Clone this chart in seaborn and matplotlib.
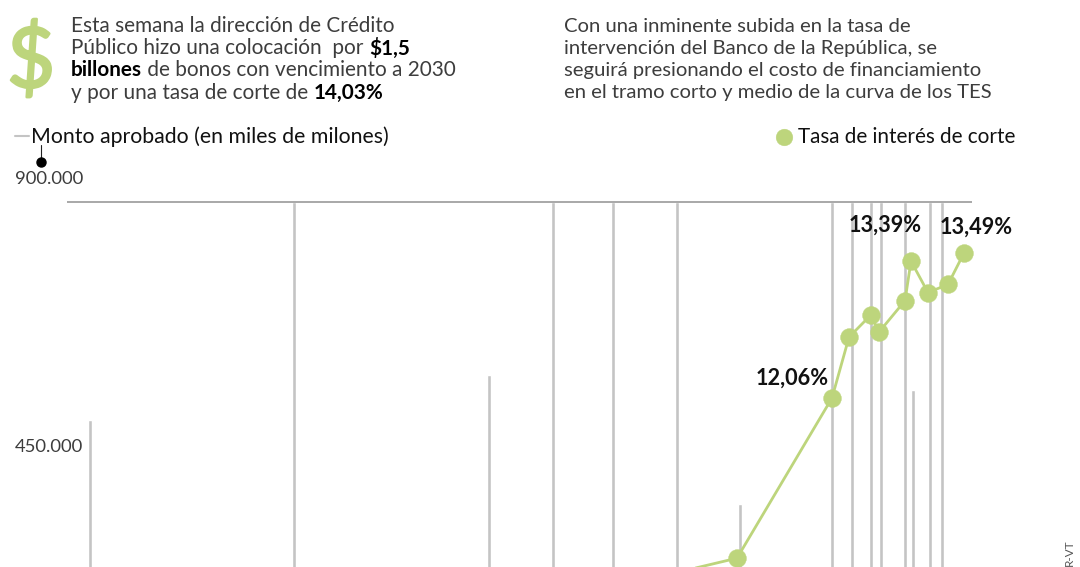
import pandas as pd
import matplotlib
matplotlib.use("Agg")
import matplotlib.pyplot as plt
import matplotlib.patheffects as pe
import seaborn as sns

# x = position along the time axis (one unit per pixel, dates are not printed in the chart)
bar_x = [89.5, 293.5, 488.5, 552.5, 612.5, 676.5, 739.5, 831.5, 851.5, 870.5, 880.5, 904.5, 912.5, 929.5, 941.5]
monto = [496000, 900000, 580000, 900000, 900000, 900000, 341000, 900000, 900000,
         900000, 900000, 900000, 552000, 900000, 900000]

tasa_x = [613, 737, 832, 849, 871, 879, 905, 911, 928, 948, 964]
tasa = [10.19, 10.48, 12.06, 12.66, 12.88, 12.71, 13.02, 13.41, 13.10, 13.18, 13.49]

etiquetas = ["12,06%", "13,39%", "13,49%"]
y_ticks = ["900.000", "450.000"]

parrafo_1 = [[("Esta semana la dirección de Crédito", "normal")],
             [("Público hizo una colocación  por ", "normal"), ("$1,5", "bold")],
             [("billones", "bold"), (" de bonos con vencimiento a 2030", "normal")],
             [("y por una tasa de corte de ", "normal"), ("14,03%", "bold")]]
parrafo_2 = ["Con una inminente subida en la tasa de",
             "intervención del Banco de la República, se",
             "seguirá presionando el costo de financiamiento",
             "en el tramo corto y medio de la curva de los TES"]

VERDE = "#bdd57c"
GRIS = "#c4c4c4"
TEXTO = "#3d3d3d"
W, H = 1080, 567

sns.set_theme(style="white")
plt.rcParams["font.family"] = ["Lato", "DejaVu Sans"]

fig = plt.figure(figsize=(10.8, 5.67), dpi=100)
ax = fig.add_axes([0, 0, 1, 1 - 202 / H])

df_monto = pd.DataFrame({"x": bar_x, "monto": monto})
df_tasa = pd.DataFrame({"x": tasa_x, "tasa": tasa})

sns.barplot(data=df_monto, x="x", y="monto", native_scale=True, color=GRIS,
            width=0.5, saturation=1, ax=ax)
ax.set_xlim(0, W)
ax.set_ylim(224000, 900000)
ax.hlines(900000, 67, 972, color="#a8a8a8", lw=1.4, clip_on=False)
ax.axis("off")

ax2 = ax.twinx()
sns.lineplot(data=df_tasa, x="x", y="tasa", color=VERDE, lw=2, ax=ax2)
sns.scatterplot(data=df_tasa, x="x", y="tasa", color=VERDE, s=165, edgecolor=VERDE,
                linewidth=0.3, zorder=5, clip_on=False, ax=ax2)
ax2.set_xlim(0, W)
ax2.set_ylim(10.393, 13.993)
ax2.axis("off")


def px_text(x, y, s, **kw):
    kw.setdefault("va", "center")
    return fig.text(x / W, 1 - y / H, s, **kw)


def runs(x, y, partes, size):
    r = fig.canvas.get_renderer()
    for s, peso in partes:
        color = "#000000" if peso == "bold" else TEXTO
        t = px_text(x, y, s.replace(" ", "\u00a0"), fontsize=size, fontweight=peso, color=color)
        x += t.get_window_extent(r).width


for i, linea in enumerate(parrafo_1):
    runs(71, 26 + i * 22.2, linea, 14.95)
for i, linea in enumerate(parrafo_2):
    px_text(564, 26 + i * 22.2, linea, fontsize=14.55, color=TEXTO)

signo = px_text(31, 63, "$", fontsize=60, color=VERDE, ha="center")
signo.set_path_effects([pe.withStroke(linewidth=1.8, foreground=VERDE)])

# leyenda
fig.add_artist(plt.Line2D([15 / W, 29 / W], [1 - 136 / H] * 2, color=GRIS, lw=1.5))
px_text(31, 137, "Monto aprobado (en miles de milones)", fontsize=15.3, color="#111111")
fig.add_artist(plt.Line2D([40.5 / W, 40.5 / W], [1 - 145 / H, 1 - 162 / H], color="#222222", lw=0.8))
fig.add_artist(plt.Line2D([41 / W], [1 - 162 / H], marker="o", ms=6.5, color="#000000"))
fig.add_artist(plt.Line2D([784 / W], [1 - 137 / H], marker="o", ms=12, color=VERDE, mec=VERDE, mew=0.3))
px_text(798, 137, "Tasa de interés de corte", fontsize=14.9, color="#111111")

# ejes y etiquetas
px_text(15, 178.5, y_ticks[0], fontsize=13.3, color=TEXTO)
px_text(15, 446.5, y_ticks[1], fontsize=13.3, color=TEXTO)
for s, x, y in zip(etiquetas, [792, 885.5, 976], [378, 225, 227]):
    px_text(x, y, s, fontsize=15.6, fontweight="bold", color="#111111", ha="center")
px_text(1069, 553, "R-VT", fontsize=8.5, color="#555555", rotation=90, ha="center")

fig.savefig("out.png", dpi=100)
